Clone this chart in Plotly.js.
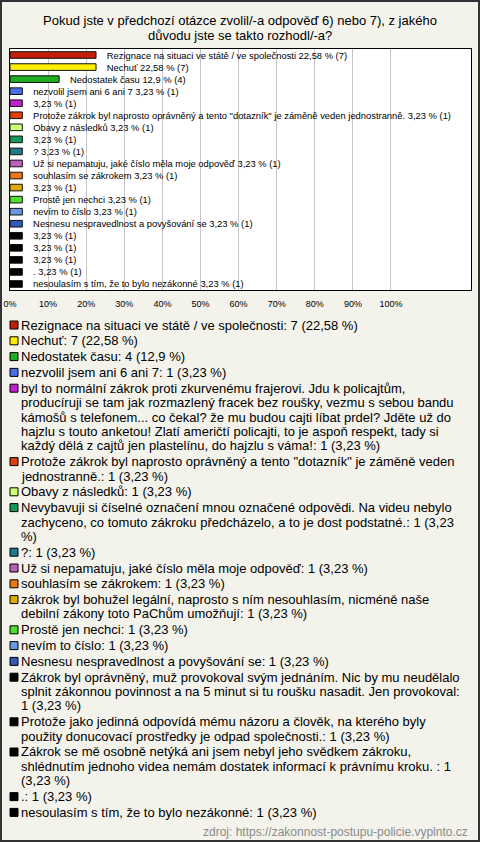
<!DOCTYPE html>
<html>
<head>
<meta charset="utf-8">
<script src="https://cdn.plot.ly/plotly-3.0.1.min.js"></script>
<style>
html,body{margin:0;padding:0;background:#f3f3ec;}
#chart{width:480px;height:842px;}
</style>
</head>
<body>
<div id="chart"></div>
<script>
// ---- data ----
const answers = [
  "Rezignace na situaci ve státě / ve společnosti",
  "Nechuť",
  "Nedostatek času",
  "nezvolil jsem ani 6 ani 7",
  "byl to normální zákrok proti zkurvenému frajerovi",
  "Protože zákrok byl naprosto oprávněný a tento \"dotazník\" je záměně veden jednostranně.",
  "Obavy z následků",
  "Nevybavuji si číselné označení mnou označené odpovědi.",
  "?",
  "Už si nepamatuju, jaké číslo měla moje odpověď",
  "souhlasím se zákrokem",
  "zákrok byl bohužel legální",
  "Prostě jen nechci",
  "nevím to číslo",
  "Nesnesu nespravedlnost a povyšování se",
  "Zákrok byl oprávněný, muž provokoval svým jednáním.",
  "Protože jako jedinná odpovídá mému názoru",
  "Zákrok se mě osobně netýká",
  ".",
  "nesoulasím s tím, že to bylo nezákonné"
];
const counts = [7,7,4,1,1,1,1,1,1,1,1,1,1,1,1,1,1,1,1,1];
const percents = [22.58,22.58,12.9,3.23,3.23,3.23,3.23,3.23,3.23,3.23,3.23,3.23,3.23,3.23,3.23,3.23,3.23,3.23,3.23,3.23];
const barLabels = [
  "Rezignace na situaci ve státě / ve společnosti 22,58 % (7)",
  "Nechuť 22,58 % (7)",
  "Nedostatek času 12,9 % (4)",
  "nezvolil jsem ani 6 ani 7 3,23 % (1)",
  "3,23 % (1)",
  "Protože zákrok byl naprosto oprávněný a tento \"dotazník\" je záměně veden jednostranně. 3,23 % (1)",
  "Obavy z následků 3,23 % (1)",
  "3,23 % (1)",
  "? 3,23 % (1)",
  "Už si nepamatuju, jaké číslo měla moje odpověď 3,23 % (1)",
  "souhlasím se zákrokem 3,23 % (1)",
  "3,23 % (1)",
  "Prostě jen nechci 3,23 % (1)",
  "nevím to číslo 3,23 % (1)",
  "Nesnesu nespravedlnost a povyšování se 3,23 % (1)",
  "3,23 % (1)",
  "3,23 % (1)",
  "3,23 % (1)",
  ". 3,23 % (1)",
  "nesoulasím s tím, že to bylo nezákonné 3,23 % (1)"
];
const colors = [
  "#c41e0a","#ffee00","#1fae1f","#4a6ee8","#c020d0","#e0400e","#ccff77","#129a5a",
  "#1f7a8a","#c05ec0","#ee7711","#e0aa00","#4ee030","#6a98e0","#3358b8",
  "#000000","#000000","#000000","#000000","#000000"
];
const legendLines = [
  ["Rezignace na situaci ve státě / ve společnosti: 7 (22,58 %)"],
  ["Nechuť: 7 (22,58 %)"],
  ["Nedostatek času: 4 (12,9 %)"],
  ["nezvolil jsem ani 6 ani 7: 1 (3,23 %)"],
  ["byl to normální zákrok proti zkurvenému frajerovi. Jdu k policajtům,",
   "producíruji se tam jak rozmazlený fracek bez roušky, vezmu s sebou bandu",
   "kámošů s telefonem... co čekal? že mu budou cajti líbat prdel? Jděte už do",
   "hajzlu s touto anketou! Zlatí američtí policajti, to je aspoň respekt, tady si",
   "každý dělá z cajtů jen plastelínu, do hajzlu s váma!: 1 (3,23 %)"],
  ["Protože zákrok byl naprosto oprávněný a tento \"dotazník\" je záměně veden",
   "jednostranně.: 1 (3,23 %)"],
  ["Obavy z následků: 1 (3,23 %)"],
  ["Nevybavuji si číselné označení mnou označené odpovědi. Na videu nebylo",
   "zachyceno, co tomuto zákroku předcházelo, a to je dost podstatné.: 1 (3,23",
   "%)"],
  ["?: 1 (3,23 %)"],
  ["Už si nepamatuju, jaké číslo měla moje odpověď: 1 (3,23 %)"],
  ["souhlasím se zákrokem: 1 (3,23 %)"],
  ["zákrok byl bohužel legální, naprosto s ním nesouhlasím, nicméně naše",
   "debilní zákony toto PaChům umožňují: 1 (3,23 %)"],
  ["Prostě jen nechci: 1 (3,23 %)"],
  ["nevím to číslo: 1 (3,23 %)"],
  ["Nesnesu nespravedlnost a povyšování se: 1 (3,23 %)"],
  ["Zákrok byl oprávněný, muž provokoval svým jednáním. Nic by mu neudělalo",
   "splnit zákonnou povinnost a na 5 minut si tu roušku nasadit. Jen provokoval:",
   "1 (3,23 %)"],
  ["Protože jako jedinná odpovídá mému názoru a člověk, na kterého byly",
   "použity donucovací prostředky je odpad společnosti.: 1 (3,23 %)"],
  ["Zákrok se mě osobně netýká ani jsem nebyl jeho svědkem zákroku,",
   "shlédnutím jednoho videa nemám dostatek informací k právnímu kroku. : 1",
   "(3,23 %)"],
  [".: 1 (3,23 %)"],
  ["nesoulasím s tím, že to bylo nezákonné: 1 (3,23 %)"]
];
const tickVals = [0,10,20,30,40,50,60,70,80,90,100];
const tickText = ["0%","10%","20%","30%","40%","50%","60%","70%","80%","90%","100%"];
const titleLines = ["Pokud jste v předchozí otázce zvolil/-a odpověď 6) nebo 7), z jakého", "důvodu jste se takto rozhodl/-a?"];
const sourceText = "zdroj: https://zakonnost-postupu-policie.vyplnto.cz";

// ---- layout helpers ----
const W = 480, H = 842;
const M = {l: 10, r: 9, t: 49, b: 552};
const PW = W - M.l - M.r, PH = H - M.t - M.b;
const FONT = "Liberation Sans, Arial, sans-serif";
const px2x = px => (px - M.l) / PW;
const py2y = py => 1 - (py - M.t) / PH;

const cats = answers.map((a, i) => String(i));

const trace = {
  type: "bar",
  orientation: "h",
  x: percents,
  y: cats,
  width: 0.55,
  marker: {color: colors, line: {color: "#111", width: 1}},
  text: barLabels.map(t => "\u00a0\u00a0\u00a0" + t),
  textposition: "outside",
  constraintext: "none",
  cliponaxis: false,
  textangle: 0,
  textfont: {family: FONT, size: 9.4, color: "#000"},
  hoverinfo: "none",
  showlegend: false
};

const annotations = [];
const shapes = [];
// outer border
shapes.push({type: "rect", xref: "paper", yref: "paper",
  x0: px2x(1), x1: px2x(479), y0: py2y(841), y1: py2y(1),
  line: {color: "#333", width: 2}, fillcolor: "rgba(0,0,0,0)", layer: "above"});

// second title line (first is layout.title) to keep the tight line spacing
annotations.push({xref: "paper", yref: "paper", x: px2x(240), y: py2y(35),
  xanchor: "center", yanchor: "middle", showarrow: false, text: titleLines[1],
  font: {family: FONT, size: 13, color: "#000"}});

// custom legend
const LINE = 14.4, GAP = 1.4;
let yy = 325;
legendLines.forEach((lines, i) => {
  shapes.push({type: "rect", xref: "paper", yref: "paper",
    x0: px2x(10), x1: px2x(18), y0: py2y(yy + 4), y1: py2y(yy - 4),
    fillcolor: colors[i], line: {color: "#000", width: 1}});
  lines.forEach((ln, j) => {
    annotations.push({xref: "paper", yref: "paper", x: px2x(19), y: py2y(yy + j * LINE),
      xanchor: "left", yanchor: "middle", showarrow: false, text: ln,
      font: {family: FONT, size: 13, color: "#000"}});
  });
  yy += lines.length * LINE + GAP;
});
annotations.push({xref: "paper", yref: "paper", x: px2x(470), y: py2y(832),
  xanchor: "right", yanchor: "middle", showarrow: false, text: sourceText,
  font: {family: FONT, size: 12, color: "#8a8a8a"}});

const layout = {
  width: W, height: H,
  margin: M,
  paper_bgcolor: "#f3f3ec",
  plot_bgcolor: "#ffffff",
  title: {text: titleLines[0], font: {family: FONT, size: 13, color: "#000"},
    x: 0.5, xref: "container", y: 1 - 20.7 / H, yref: "container", yanchor: "middle"},
  xaxis: {range: [0, 121], tickvals: tickVals, ticktext: tickText,
    showgrid: true, gridcolor: "#c4c4c4", gridwidth: 1, zeroline: false,
    showline: true, linecolor: "#000", linewidth: 1, mirror: true,
    ticks: "outside", ticklen: 5, tickcolor: "rgba(0,0,0,0)",
    tickfont: {family: FONT, size: 9, color: "#000"}, fixedrange: true},
  yaxis: {type: "category", autorange: "reversed", showticklabels: false,
    showgrid: false, zeroline: false, showline: true, linecolor: "#000",
    linewidth: 1, mirror: true, ticks: "", fixedrange: true},
  bargap: 0.45,
  showlegend: false,
  annotations: annotations,
  shapes: shapes
};

Plotly.newPlot("chart", [trace], layout, {displayModeBar: false, staticPlot: true});
</script>
</body>
</html>
